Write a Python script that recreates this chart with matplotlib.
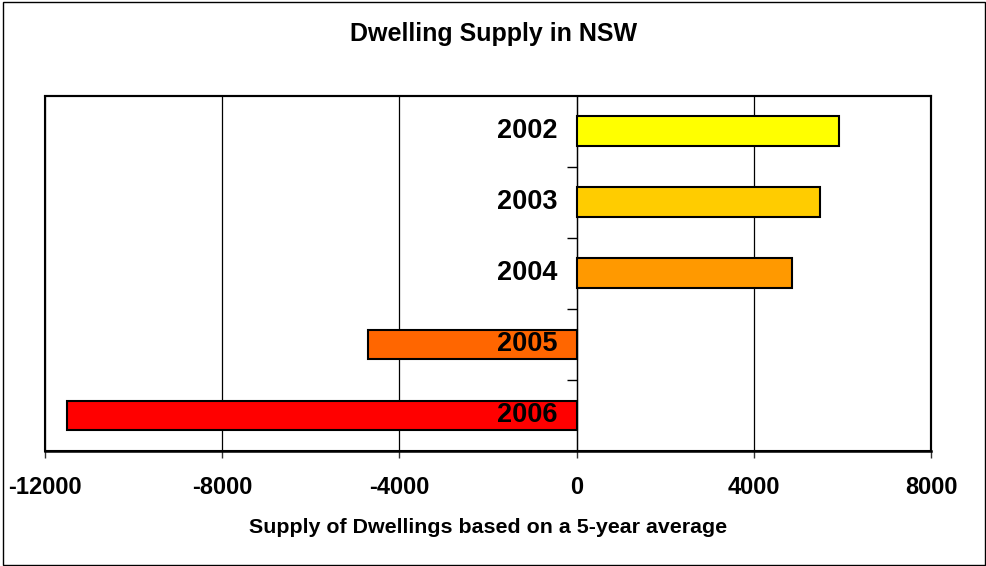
import numpy as np
import matplotlib.pyplot as plt
from matplotlib.patches import Rectangle

# data
years = ['2002', '2003', '2004', '2005', '2006']
supply = [5930, 5500, 4860, -4710, -11500]
colors = ['#FFFF00', '#FFCC00', '#FF9900', '#FF6600', '#FF0000']
xticks = [-12000, -8000, -4000, 0, 4000, 8000]

plt.rcParams['font.family'] = ['Liberation Sans', 'DejaVu Sans']
plt.rcParams['font.weight'] = 'bold'


def main():
    fig = plt.figure(figsize=(9.87, 5.66), dpi=100)
    ax = fig.add_axes([0.0456, 0.2032, 0.8977, 0.6276])

    pos = np.arange(len(years))
    ax.barh(pos, supply, height=0.42, color=colors, edgecolor='black',
            linewidth=1.5, zorder=3)

    ax.set_xlim(-12000, 8000)
    ax.set_ylim(len(years) - 0.5, -0.5)

    # vertical gridlines
    ax.set_xticks(xticks)
    ax.set_xticklabels([str(t) for t in xticks], fontsize=17, fontweight='bold')
    ax.xaxis.grid(True, color='black', linewidth=0.9, zorder=1)
    ax.tick_params(axis='x', direction='out', length=5, width=1,
                   color='#333333', pad=13)

    # category axis sits on zero
    ax.spines['left'].set_position(('data', 0))
    ax.spines['left'].set_color('black')
    ax.spines['left'].set_linewidth(0.9)
    ax.set_yticks(pos[:-1] + 0.5)
    ax.set_yticklabels([])
    ax.tick_params(axis='y', direction='out', length=7, width=1, color='black')
    for p, yr in zip(pos, years):
        ax.annotate(yr, xy=(0, p), xytext=(-14, 0), textcoords='offset points',
                    ha='right', va='center', fontsize=19.5, fontweight='bold',
                    zorder=5)

    ax.spines['bottom'].set_color('black')
    ax.spines['bottom'].set_linewidth(1.8)
    ax.spines['top'].set_linewidth(1.5)
    ax.spines['right'].set_linewidth(1.5)
    # plot area left border
    ax.add_patch(Rectangle((0, 0), 1, 1, transform=ax.transAxes, fill=False,
                           edgecolor='black', linewidth=1.5, zorder=0.5,
                           clip_on=False))

    ax.set_xlabel('Supply of Dwellings based on a 5-year average',
                  fontsize=15.4, fontweight='bold', labelpad=14)
    fig.text(0.5, 1 - 34 / 566, 'Dwelling Supply in NSW', fontsize=18,
             fontweight='bold', ha='center', va='center')

    # chart border
    fig.add_artist(Rectangle((0.003, 0.002), 0.995, 0.994,
                             transform=fig.transFigure, fill=False,
                             edgecolor='black', linewidth=1))

    fig.savefig('out.png', dpi=100)


if __name__ == '__main__':
    main()
